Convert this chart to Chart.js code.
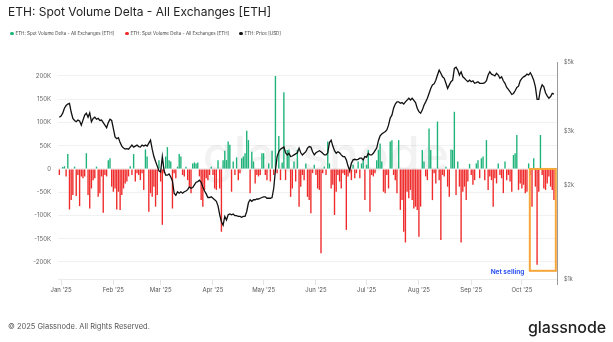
<!DOCTYPE html>
<html>
<head>
<meta charset="utf-8">
<script src="https://cdn.jsdelivr.net/npm/chart.js@4.4.1/dist/chart.umd.min.js"></script>
<style>
  body { margin: 0; background: #fff; font-family: Inter, "Noto Sans", sans-serif; }
  #wrap { position: relative; width: 613px; height: 342px; overflow: hidden; }
  #chart { position: absolute; left: 0; top: 0; }
  .title { position: absolute; left: 8px; top: 4px; font-size: 12px; color: #222; white-space: nowrap; }
  .leg { position: absolute; top: 30px; font-size: 4.5px; line-height: 7px; color: #444; white-space: nowrap; }
  .leg i { display: inline-block; width: 3.5px; height: 3.5px; border-radius: 50%; margin-right: 2px; vertical-align: -0.3px; }
  .foot { position: absolute; left: 8px; top: 322px; font-size: 7.5px; color: #555; white-space: nowrap; }
  .logo { position: absolute; right: 7px; top: 317px; font-size: 16px; font-weight: 500; color: #222; letter-spacing: -0.1px; }
</style>
</head>
<body>
<div id="wrap">
  <canvas id="chart" width="613" height="342"></canvas>
  <div class="title">ETH: Spot Volume Delta - All Exchanges [ETH]</div>
  <div class="leg" style="left:10px"><i style="background:#1fb37a"></i>ETH: Spot Volume Delta - All Exchanges [ETH]</div>
  <div class="leg" style="left:125px"><i style="background:#ef2b2b"></i>ETH: Spot Volume Delta - All Exchanges [ETH]</div>
  <div class="leg" style="left:239px"><i style="background:#111"></i>ETH: Price [USD]</div>
  <div class="foot">© 2025 Glassnode. All Rights Reserved.</div>
  <div class="logo">glassnode</div>
</div>
<script>
// daily values, first entry = 2024-12-31 (day -1), last = 2025-10-20 (day 292)
const firstDay = -1;

// spot volume delta, thousands of ETH
const delta = [
  -13,1,4,6,-16,32,-87,-67,-56,5,
  -58,-13,-80,-16,-20,-16,34,-56,-85,-42,
  -24,-20,5,-60,-52,-16,-94,-13,-16,19,
  23,-38,-49,-42,-87,-49,-88,-56,-42,-31,
  -27,-16,6,-13,32,-27,-9,-13,-24,-9,
  -45,42,27,-92,-52,-60,-38,-81,-56,19,
  -27,-120,-9,27,47,19,16,-85,-9,-20,
  5,32,27,-13,-16,5,-24,-38,-52,12,
  14,12,14,-16,-67,-81,-45,-20,-24,-13,
  5,-13,-42,-45,19,-42,-135,19,
  39,19,59,52,-49,16,-13,25,-24,-9,
  23,27,34,82,62,-52,37,16,-31,-13,
  -16,-13,34,34,-13,-24,12,-27,39,-13,
  200,-9,71,-24,14,165,-24,41,42,-60,
  -42,16,-27,41,-81,-38,-13,-24,12,-60,
  -67,-95,-9,9,-13,-42,-45,-181,-9,5,
  -13,59,12,-42,-34,-99,-49,-13,-27,-42,
  -9,-13,-131,-16,-9,-24,9,-20,-9,16,
  -20,12,19,-67,9,41,-92,-13,-16,-9,
  19,41,55,16,-49,-52,-13,-42,59,
  62,-13,-24,-52,62,-88,-67,-135,-158,-49,
  -63,-45,-67,-85,-81,-88,-146,-81,41,16,
  -16,-24,87,41,-67,-9,-31,102,-24,-153,
  -13,-16,5,-38,-60,42,41,123,-56,16,
  -38,-158,-49,-38,-67,-27,11,-13,-34,-24,
  12,19,-20,23,27,-24,62,-45,-16,-24,
  -81,-20,-31,12,-13,-20,-52,16,-24,-13,
  -27,-49,30,34,73,-45,-31,-42,-34,-52,
  -49,12,-13,-81,23,-38,-206,-49,73,-13,
  -42,-45,-31,-16,-38,-45,-67
];

// ETH price, USD
const price = [
  3320,
  3350,3420,3550,3620,3660,3680,3450,3290,3240,3210,
  3250,3230,3130,3250,3370,3420,3320,3430,3210,3290,
  3320,3270,3290,3240,3250,3190,3130,3070,3190,3270,
  3240,3050,2870,2830,2850,2750,2680,2640,2620,2630,
  2620,2660,2700,2660,2680,2700,2670,2660,2700,2680,
  2700,2680,2740,2800,2620,2480,2390,2310,2230,2210,
  2480,2240,2160,2160,2180,2130,2070,1890,1860,1910,
  1890,1910,1890,1910,1920,1940,1980,1960,1970,2010,
  2050,2060,2080,2050,1980,1920,1880,1830,1830,1840,
  1820,1800,1780,1720,1610,1530,1490,1590,1550,1610,
  1620,1610,1620,1600,1600,1590,1590,1580,1590,1590,
  1650,1760,1800,1780,1800,1800,1810,1810,1820,1830,
  1840,1840,1820,1820,1820,1830,1960,2240,2480,2570,
  2620,2640,2660,2550,2510,2540,2480,2490,2510,2530,
  2550,2640,2550,2510,2540,2570,2640,2670,2660,2570,
  2510,2550,2570,2590,2570,2540,2510,2510,2550,2750,
  2800,2680,2590,2540,2570,2550,2510,2480,2480,2420,
  2310,2240,2360,2420,2430,2420,2430,2450,2450,2420,
  2480,2470,2540,2510,2510,2540,2590,2640,2790,2890,
  2930,2960,2980,3020,3130,3300,3370,3550,3660,3720,
  3720,3680,3700,3660,3720,3770,3820,3770,3820,3760,
  3700,3550,3460,3420,3500,3630,3720,3820,3960,4110,
  4220,4250,4370,4540,4710,4600,4480,4430,4270,4110,
  4220,4320,4370,4770,4810,4710,4540,4650,4480,4430,
  4370,4320,4370,4320,4350,4270,4290,4320,4270,4270,
  4270,4290,4350,4540,4650,4570,4540,4510,4600,4540,
  4430,4480,4350,4270,4140,4080,4010,3930,3960,4040,
  4140,4180,4350,4430,4480,4510,4570,4540,4620,4510,
  4370,4160,3790,3790,4080,4220,4160,3980,3890,3820,
  3870,3960,3940
];

const monthLabels = ["Jan '25", "Feb '25", "Mar '25", "Apr '25", "May '25", "Jun '25", "Jul '25", "Aug '25", "Sep '25", "Oct '25"];
const monthStartDays = [0, 31, 59, 90, 120, 151, 181, 212, 243, 273];
const deltaTicks = [-200000, -150000, -100000, -50000, 0, 50000, 100000, 150000, 200000];
const priceTicks = [1000, 2000, 3000, 5000];

// highlighted window (days since Jan 1, volume delta bottom)
const netSelling = { from: 277.7, to: 293.1, low: -219000, label: "Net selling" };

const green = "#1fb37a";
const red = "#ef2b2b";

const buys = delta.map((v, i) => ({ x: firstDay + i, y: v > 0 ? v * 1000 : null }));
const sells = delta.map((v, i) => ({ x: firstDay + i, y: v < 0 ? v * 1000 : null }));
const pricePts = price.map((v, i) => ({ x: firstDay + i, y: v }));

const watermark = {
  id: "watermark",
  beforeDatasetsDraw(chart) {
    const { ctx } = chart;
    ctx.save();
    ctx.font = "500 50px Inter, sans-serif";
    ctx.fillStyle = "rgba(0,0,0,0.05)";
    ctx.textAlign = "center";
    ctx.textBaseline = "middle";
    ctx.fillText("glassnode", 326, 157);
    ctx.restore();
  }
};

const annotate = {
  id: "annotate",
  afterDatasetsDraw(chart) {
    const { ctx, scales } = chart;
    const x1 = scales.x.getPixelForValue(netSelling.from);
    const x2 = scales.x.getPixelForValue(netSelling.to);
    const y1 = scales.y.getPixelForValue(0);
    const y2 = scales.y.getPixelForValue(netSelling.low);
    ctx.save();
    ctx.strokeStyle = "#f7a63a";
    ctx.lineWidth = 2;
    ctx.strokeRect(x1, y1, x2 - x1, y2 - y1);
    ctx.font = "bold 6.5px Inter, sans-serif";
    ctx.fillStyle = "#2f55f0";
    ctx.textAlign = "right";
    ctx.textBaseline = "middle";
    ctx.fillText(netSelling.label, x1 - 5.5, y2 + 1);
    ctx.restore();
  },
  afterDraw(chart) {
    const { ctx, chartArea } = chart;
    ctx.save();
    ctx.strokeStyle = "#9a9a9a";
    ctx.lineWidth = 1;
    ctx.beginPath();
    ctx.moveTo(chartArea.right + 0.5, chartArea.top);
    ctx.lineTo(chartArea.right + 0.5, chartArea.bottom + 6);
    ctx.stroke();
    ctx.restore();
  }
};

new Chart("chart", {
  type: "bar",
  data: {
    datasets: [
      { type: "line", label: "ETH: Price [USD]", data: pricePts, yAxisID: "y1",
        borderColor: "#111", borderWidth: 1.3, pointRadius: 0, tension: 0, order: 0 },
      { label: "buy", data: buys, yAxisID: "y", backgroundColor: green, order: 1 },
      { label: "sell", data: sells, yAxisID: "y", backgroundColor: red, order: 1 }
    ]
  },
  options: {
    responsive: false,
    animation: false,
    grouped: false,
    barPercentage: 1,
    categoryPercentage: 0.82,
    layout: { padding: { top: 62, left: 0, right: 0, bottom: 0 } },
    plugins: { legend: { display: false }, title: { display: false }, tooltip: { enabled: false } },
    scales: {
      x: {
        type: "linear",
        offset: false,
        min: -1.8,
        max: 293.8,
        afterBuildTicks: (s) => { s.ticks = monthStartDays.map((value) => ({ value })); },
        afterFit: (s) => { s.height = 63; },
        grid: { drawOnChartArea: false, offset: false, tickLength: 6, color: "#e4e4e4" },
        border: { color: "#ececec" },
        ticks: {
          autoSkip: false, maxRotation: 0, padding: 2,
          font: { size: 6, family: "Inter" }, color: "#555",
          callback: (v) => monthLabels[monthStartDays.indexOf(v)]
        }
      },
      y: {
        position: "left",
        min: -236600,
        max: 230000,
        afterBuildTicks: (s) => { s.ticks = deltaTicks.map((value) => ({ value })); },
        afterFit: (s) => { s.width = 58; },
        grid: { color: "#f1f1f1", drawTicks: false },
        border: { display: false },
        ticks: {
          padding: 7, font: { size: 6, family: "Inter" }, color: "#666",
          callback: (v) => (v === 0 ? "0" : v / 1000 + "K")
        }
      },
      y1: {
        type: "logarithmic",
        position: "right",
        min: 1000,
        max: 5000,
        afterBuildTicks: (s) => { s.ticks = priceTicks.map((value) => ({ value })); },
        afterFit: (s) => { s.width = 56; },
        grid: { display: false, drawTicks: false },
        border: { display: false },
        ticks: {
          padding: 7, font: { size: 5.5, family: "Inter" }, color: "#666",
          callback: (v) => "$" + v / 1000 + "k"
        }
      }
    }
  },
  plugins: [watermark, annotate]
});
</script>
</body>
</html>
